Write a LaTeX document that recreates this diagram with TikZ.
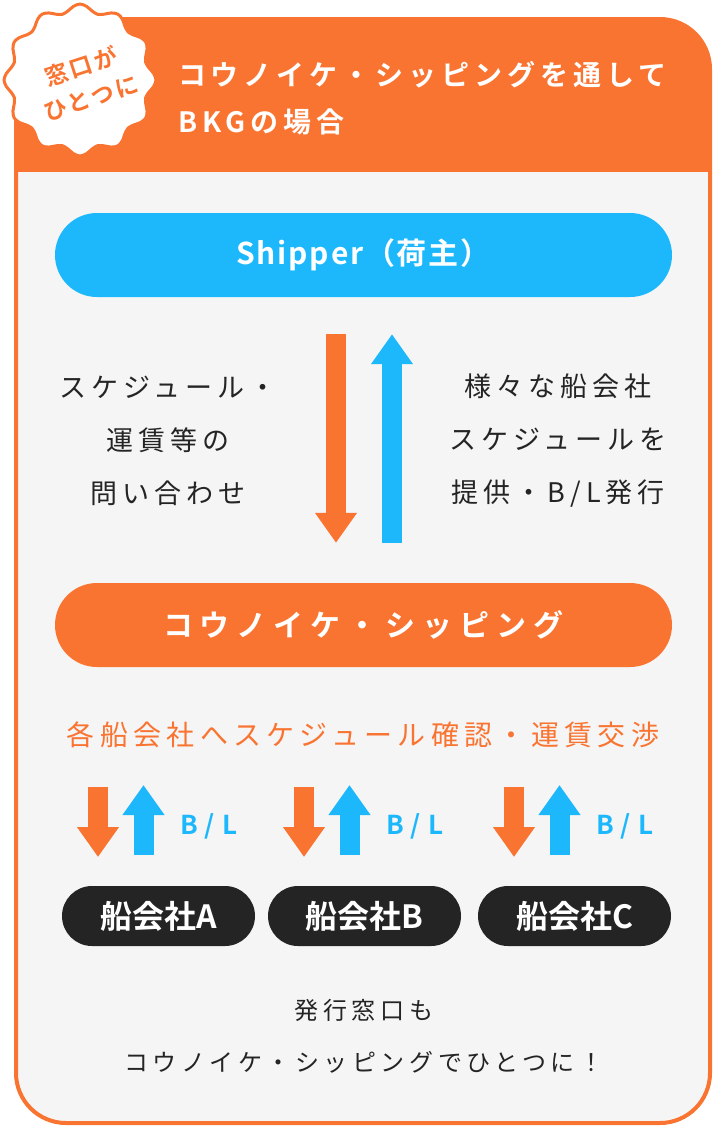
\documentclass[tikz,border=0pt]{standalone}
\usepackage{fontspec}
\setmainfont{Noto Sans CJK JP}[BoldFont={Noto Sans CJK JP Bold}]
\usetikzlibrary{arrows.meta}
\definecolor{kporange}{HTML}{FA7431}
\definecolor{kpblue}{HTML}{1DB8FC}
\definecolor{kpdark}{HTML}{242424}
\definecolor{kpgray}{HTML}{F5F5F5}
\tikzset{>=latex}
\newcommand{\track}[1]{\addfontfeatures{LetterSpace=#1}}
\tikzset{
    pill/.style={fill=#1, minimum width=617pt, minimum height=84pt, rounded corners=42pt,
        inner sep=0pt, text=white, font=\fontsize{30}{34}\selectfont\bfseries\track{24}},
    coname/.style={fill=kpdark, minimum width=193pt, minimum height=60pt, rounded corners=30pt,
        inner sep=0pt, text=white, font=\fontsize{32}{36}\selectfont\bfseries},
    fat/.style={line width=20pt, -{Triangle[length=30pt,width=40pt]}},
    memo/.style={align=center, inner sep=0pt, text=kpdark, font=\fontsize{27}{53}\selectfont\track{19}},
}
% one pair of small arrows, its B/L and one carrier
\newcommand{\carrier}[3]{
    \coordinate (dn#1) at (98+#2,787);
    \coordinate (dt#1) at (98+#2,857);
    \coordinate (ub#1) at (143.5+#2,855);
    \coordinate (ut#1) at (143.5+#2,785);
    \draw[fat,kporange] (dn#1) -- (dt#1);
    \draw[fat,kpblue] (ub#1) -- (ut#1);
    \node[anchor=west, inner sep=0pt, text=kpblue, font=\fontsize{26}{30}\selectfont\bfseries\track{27}] (bl#1) at (180+#2,826) {B/L};
    \node[coname] (co#1) at (158.5+#2,916) {船会社#3};
}

\begin{document}
\begin{tikzpicture}[x=1pt,y=-1pt]
    \useasboundingbox (0,0) rectangle (714,1128);
    % frame and header
    \begin{scope}
        \clip[rounded corners=50pt] (16,19) rectangle (710,1123);
        \fill[kpgray] (16,19) rectangle (710,1123);
        \fill[kporange] (16,19) rectangle (710,172);
    \end{scope}
    \draw[kporange, line width=4pt, rounded corners=50pt] (16,19) rectangle (710,1123);
    \draw[kporange, line width=3pt, fill=white] plot[smooth cycle, domain=0:355, samples=72]
        ({80+(72+4*cos(12*\x))*cos(\x)}, {80+(72+4*cos(12*\x))*sin(\x)});
    \node[rotate=18, align=center, inner sep=0pt, text=kporange,
        font=\fontsize{23}{33}\selectfont\bfseries\track{12}] (badge) at (86,82) {窓口が\\ひとつに};
    \node[anchor=west, align=left, inner sep=0pt, text=white,
        font=\fontsize{28}{47}\selectfont\bfseries\track{18}] (title) at (178,98)
        {コウノイケ・シッピングを通して\\BKGの場合};
    % shipper and us
    \node[pill=kpblue, font=\fontsize{30}{34}\selectfont\bfseries\track{6}] (shipper) at (363.5,255) {Shipper（荷主）};
    \node[pill=kporange] (koike) at (363.5,625) {コウノイケ・シッピング};
    \draw[fat,kporange,shorten <=37pt,shorten >=40pt] ([xshift=-27.5pt]shipper.south) -- ([xshift=-27.5pt]koike.north);
    \draw[fat,kpblue,shorten <=40pt,shorten >=37pt] ([xshift=28.5pt]koike.north) -- ([xshift=28.5pt]shipper.south);
    \node[memo] (ask) at (168,441) {スケジュール・\\運賃等の\\問い合わせ};
    \node[memo] (give) at (558,441) {様々な船会社\\スケジュールを\\提供・B/L発行};
    % carriers
    \node[inner sep=0pt, text=kporange, font=\fontsize{28}{32}\selectfont\track{19}] (deal) at (363,735)
        {各船会社へスケジュール確認・運賃交渉};
    \carrier{a}{0}{A}
    \carrier{b}{206}{B}
    \carrier{c}{416}{C}
    \node[memo, font=\fontsize{24}{52}\selectfont\track{19}] (close) at (364,1036)
        {発行窓口も\\コウノイケ・シッピングでひとつに！};
\end{tikzpicture}
\end{document}
